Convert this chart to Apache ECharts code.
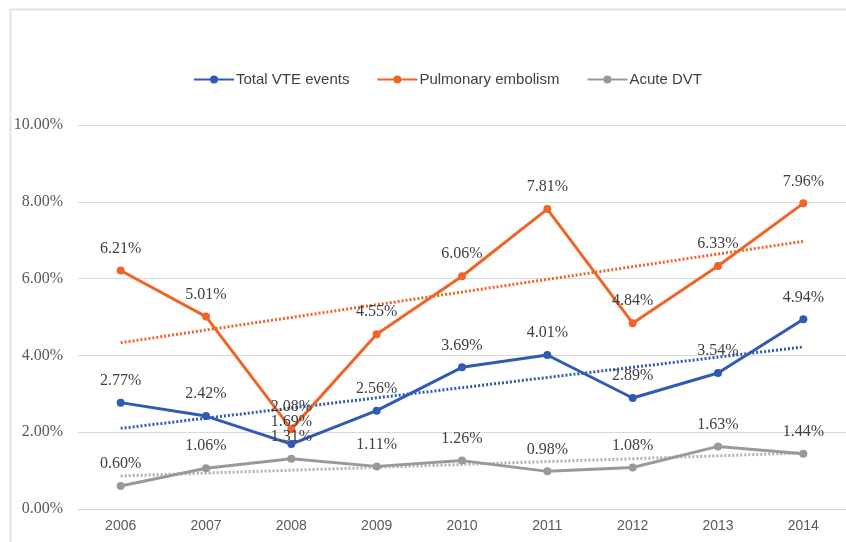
<!DOCTYPE html>
<html>
<head>
<meta charset="utf-8">
<script src="https://cdn.jsdelivr.net/npm/echarts@6/dist/echarts.min.js"></script>
<style>
    html, body { margin: 0; padding: 0; background: #fff; }
    #main { width: 846px; height: 542px; }
</style>
</head>
<body>
<div id="main"></div>
<script>
    const years = ['2006', '2007', '2008', '2009', '2010', '2011', '2012', '2013', '2014'];
    const totalVte = [2.77, 2.42, 1.69, 2.56, 3.69, 4.01, 2.89, 3.54, 4.94];
    const pulmonaryEmbolism = [6.21, 5.01, 2.08, 4.55, 6.06, 7.81, 4.84, 6.33, 7.96];
    const acuteDvt = [0.60, 1.06, 1.31, 1.11, 1.26, 0.98, 1.08, 1.63, 1.44];
    // trend line ends (first and last year)
    const trendTotal = [2.10, 4.22];
    const trendPe = [4.33, 6.97];
    const trendDvt = [0.86, 1.46];

    const colors = { total: '#2F5BB5', pe: '#EF6427', dvt: '#999999' };

    function trendData(ends) {
        const d = years.map(function () { return null; });
        d[0] = ends[0];
        d[years.length - 1] = ends[1];
        return d;
    }

    function lineSeries(name, data, color) {
        return {
            name: name,
            type: 'line',
            data: data,
            z: 3,
            symbol: 'circle',
            symbolSize: 8,
            itemStyle: { color: color },
            lineStyle: { color: color, width: 3 },
            label: {
                show: true,
                position: 'top',
                distance: 10,
                fontFamily: 'Liberation Serif',
                fontSize: 16,
                color: '#404040',
                formatter: function (p) { return p.value.toFixed(2) + '%'; }
            }
        };
    }

    function trendSeries(data, color) {
        return {
            type: 'line',
            data: trendData(data),
            connectNulls: true,
            symbol: 'none',
            silent: true,
            z: 2,
            lineStyle: { color: color, width: 3, type: [2, 2] }
        };
    }

    const chart = echarts.init(document.getElementById('main'));
    chart.setOption({
        animation: false,
        graphic: [{
            type: 'rect',
            shape: { x: 10.5, y: 9.5, width: 860, height: 560 },
            style: { fill: 'none', stroke: '#e4e4e4', lineWidth: 2 }
        }],
        legend: {
            top: 72,
            left: 193,
            padding: 0,
            itemWidth: 40,
            itemHeight: 10,
            itemGap: 27,
            data: ['Total VTE events', 'Pulmonary embolism', 'Acute DVT'],
            textStyle: { fontFamily: 'Liberation Sans', fontSize: 15, color: '#404040', padding: [0, 0, 0, -3] }
        },
        grid: { left: 78, right: -8, top: 125, bottom: 33 },
        xAxis: {
            type: 'category',
            data: years,
            boundaryGap: true,
            axisLine: { lineStyle: { color: '#d0d0d0', width: 1 } },
            axisTick: { show: false },
            axisLabel: { fontFamily: 'Liberation Sans', fontSize: 14, color: '#595959', margin: 10 }
        },
        yAxis: {
            type: 'value',
            min: 0,
            max: 10,
            interval: 2,
            axisLine: { show: false },
            axisTick: { show: false },
            splitLine: { lineStyle: { color: '#d9d9d9', width: 1 } },
            axisLabel: {
                fontFamily: 'Liberation Serif',
                fontSize: 16,
                color: '#595959',
                margin: 15,
                formatter: function (v) { return v.toFixed(2) + '%'; }
            }
        },
        series: [
            lineSeries('Total VTE events', totalVte, colors.total),
            lineSeries('Pulmonary embolism', pulmonaryEmbolism, colors.pe),
            lineSeries('Acute DVT', acuteDvt, colors.dvt),
            trendSeries(trendTotal, colors.total),
            trendSeries(trendPe, colors.pe),
            trendSeries(trendDvt, '#b0b0b0')
        ]
    });
</script>
</body>
</html>
